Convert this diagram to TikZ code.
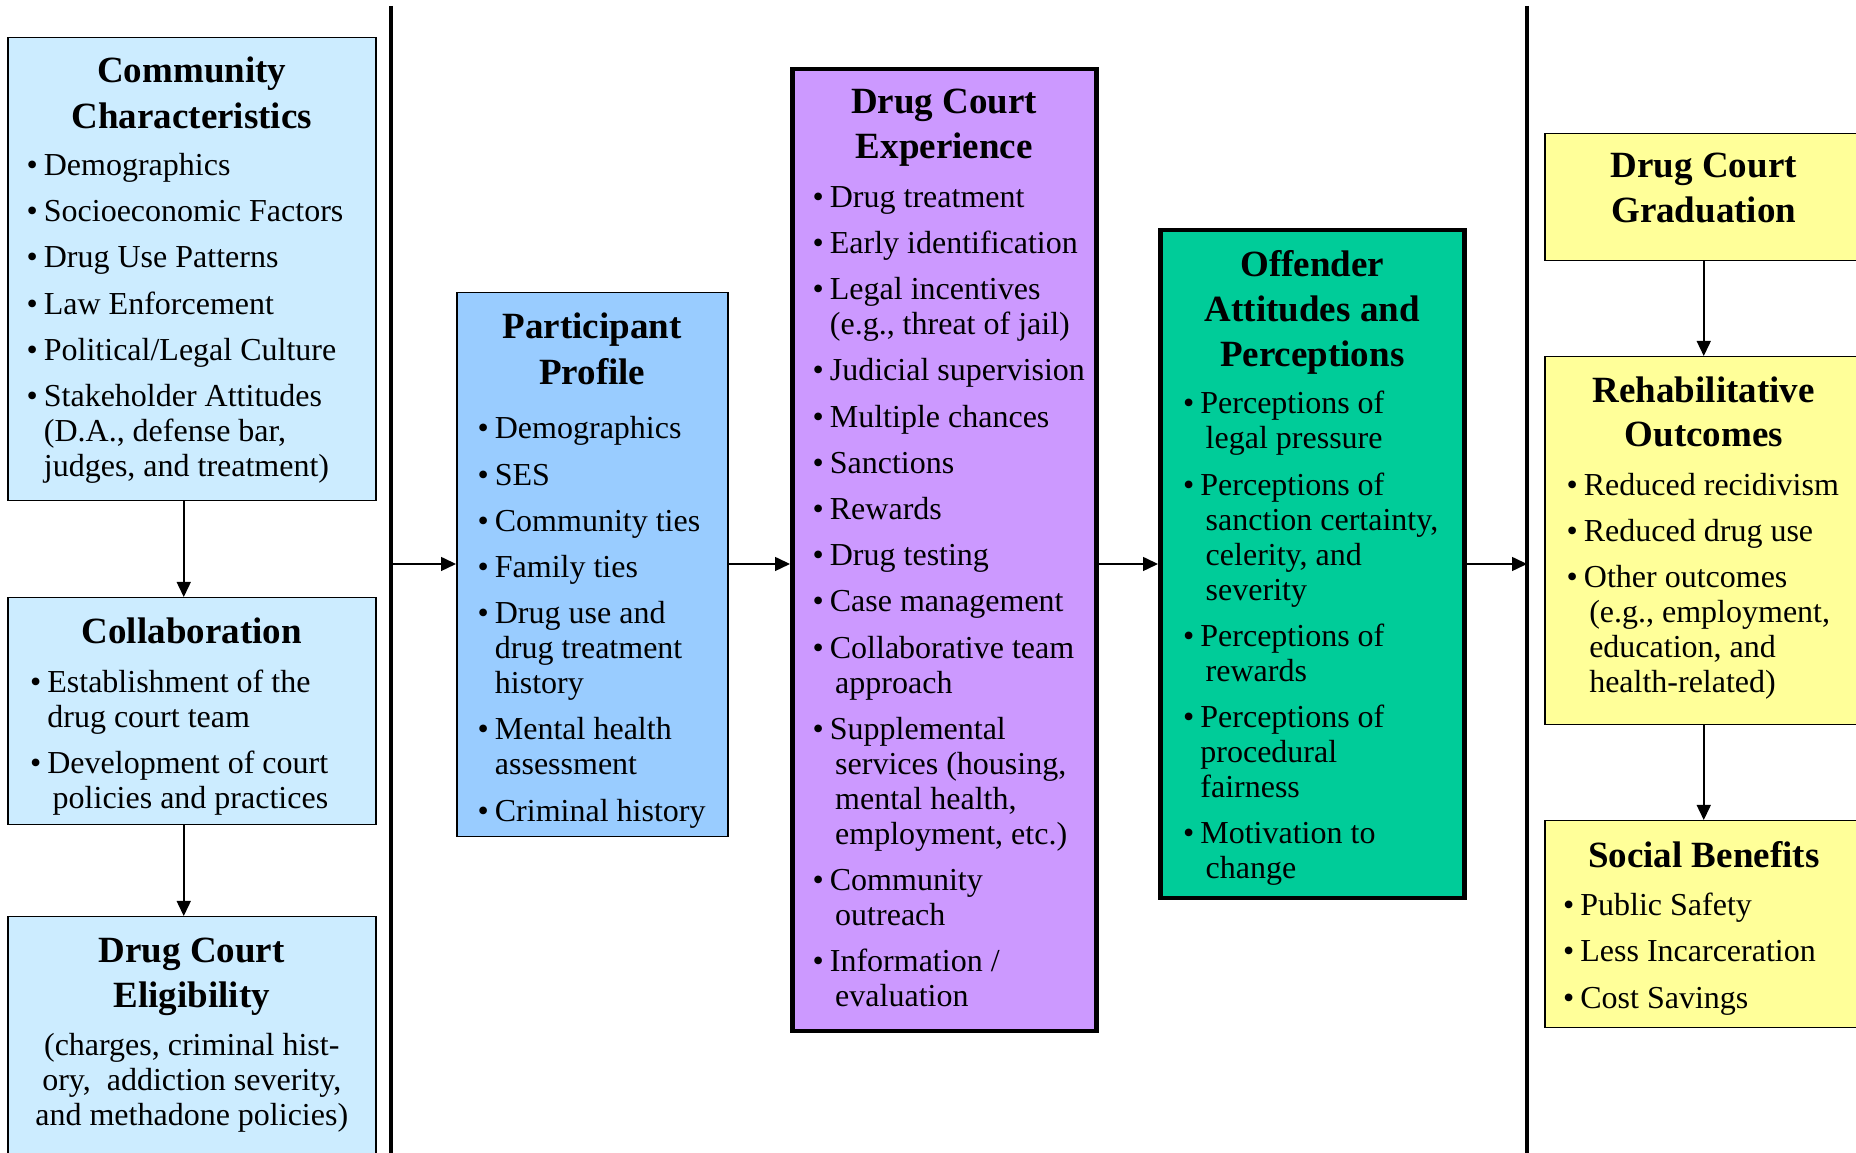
\documentclass[tikz,border=0pt]{standalone}
\usepackage{fontspec}
\setmainfont{Liberation Serif}
\usetikzlibrary{positioning,calc,arrows.meta}
\definecolor{commblue}{HTML}{CCECFF}
\definecolor{partblue}{HTML}{99CCFF}
\definecolor{courtviolet}{HTML}{CC99FF}
\definecolor{attgreen}{HTML}{00CC99}
\definecolor{outyellow}{HTML}{FFFF99}
\newcommand{\ttl}{\fontsize{37}{45}\selectfont\bfseries}
\newcommand{\tg}{\\[9pt]}
\newcommand{\ig}{\\[11.2pt]}

\begin{document}
\begin{tikzpicture}[x=1pt,y=1pt,
    box/.style={draw, line width=1.5pt, anchor=north west},
    heavybox/.style={draw, line width=4.5pt, anchor=north west},
    txt/.style={inner sep=0pt, font=\fontsize{32}{35}\selectfont},
    list/.style={txt, anchor=north west, yshift=-13pt},
    arr/.style={-{Triangle[length=15pt,width=14pt]}, line width=1.5pt},
    sep/.style={line width=3.5pt}]
    \useasboundingbox (0,0) rectangle (1856,1153);

    % left column
    \node[box, fill=commblue, minimum width=368pt, minimum height=463pt] (comm) at (7,1116) {};
    \node[txt, below=20pt of comm.north] (commttl) {\begin{tabular}{@{}c@{}}
        {\ttl Community}\tg
        {\ttl Characteristics}
    \end{tabular}};
    \node[list, xshift=19.5pt, yshift=1pt] (commlist) at (commttl.south -| comm.west) {\begin{tabular}{@{}l@{\hspace{6pt}}l@{}}
        \textbullet & Demographics\ig
        \textbullet & Socioeconomic Factors\ig
        \textbullet & Drug Use Patterns\ig
        \textbullet & Law Enforcement\ig
        \textbullet & Political/Legal Culture\ig
        \textbullet & Stakeholder Attitudes\\
        & (D.A., defense bar,\\
        & judges, and treatment)
    \end{tabular}};

    \node[box, fill=commblue, minimum width=368pt, minimum height=227pt] (collab) at (7,556) {};
    \node[txt, below=21pt of collab.north] (collabttl) {\begin{tabular}{@{}c@{}}
        {\ttl Collaboration}
    \end{tabular}};
    \node[list, xshift=23pt, yshift=-0.5pt] (collablist) at (collabttl.south -| collab.west) {\begin{tabular}{@{}l@{\hspace{6pt}}l@{}}
        \textbullet & Establishment of the\\
        & drug court team\ig
        \textbullet & Development of court\\
        & \,policies and practices
    \end{tabular}};

    \node[box, fill=commblue, minimum width=368pt, minimum height=260pt] (elig) at (7,237) {};
    \node[txt, below=22pt of elig.north] (eligttl) {\begin{tabular}{@{}c@{}}
        {\ttl Drug Court}\tg
        {\ttl Eligibility}\\[13pt]
        (charges, criminal hist-\\
        ory,\ \ addiction severity,\\
        and methadone policies)
    \end{tabular}};

    % middle
    \node[box, fill=partblue, minimum width=271pt, minimum height=544pt] (part) at (456,861) {};
    \node[txt, below=21pt of part.north] (partttl) {\begin{tabular}{@{}c@{}}
        {\ttl Participant}\tg
        {\ttl Profile}
    \end{tabular}};
    \node[list, xshift=21.5pt, yshift=-6pt] (partlist) at (partttl.south -| part.west) {\begin{tabular}{@{}l@{\hspace{6pt}}l@{}}
        \textbullet & Demographics\ig
        \textbullet & SES\ig
        \textbullet & Community ties\ig
        \textbullet & Family ties\ig
        \textbullet & Drug use and\\
        & drug treatment\\
        & history\ig
        \textbullet & Mental health\\
        & assessment\ig
        \textbullet & Criminal history
    \end{tabular}};

    \node[heavybox, fill=courtviolet, minimum width=304pt, minimum height=962pt] (exper) at (790,1086) {};
    \node[txt, below=22pt of exper.north] (experttl) {\begin{tabular}{@{}c@{}}
        {\ttl Drug Court}\tg
        {\ttl Experience}
    \end{tabular}};
    \node[list, xshift=22.5pt] (experlist) at (experttl.south -| exper.west) {\begin{tabular}{@{}l@{\hspace{6pt}}l@{}}
        \textbullet & Drug treatment\ig
        \textbullet & Early identification\ig
        \textbullet & Legal incentives\\
        & (e.g., threat of jail)\ig
        \textbullet & Judicial supervision\ig
        \textbullet & Multiple chances\ig
        \textbullet & Sanctions\ig
        \textbullet & Rewards\ig
        \textbullet & Drug testing\ig
        \textbullet & Case management\ig
        \textbullet & Collaborative team\\
        & \,approach\ig
        \textbullet & Supplemental\\
        & \,services (housing,\\
        & \,mental health,\\
        & \,employment, etc.)\ig
        \textbullet & Community\\
        & \,outreach\ig
        \textbullet & Information /\\
        & \,evaluation
    \end{tabular}};

    \node[heavybox, fill=attgreen, minimum width=304pt, minimum height=668pt] (attit) at (1158,925) {};
    \node[txt, below=22pt of attit.north] (attitttl) {\begin{tabular}{@{}c@{}}
        {\ttl Offender}\tg
        {\ttl Attitudes and}\tg
        {\ttl Perceptions}
    \end{tabular}};
    \node[list, xshift=25pt, yshift=1pt] (attitlist) at (attitttl.south -| attit.west) {\begin{tabular}{@{}l@{\hspace{6pt}}l@{}}
        \textbullet & Perceptions of\\
        & \,legal pressure\ig
        \textbullet & Perceptions of\\
        & \,sanction certainty,\\
        & \,celerity, and\\
        & \,severity\ig
        \textbullet & Perceptions of\\
        & \,rewards\ig
        \textbullet & Perceptions of\\
        & procedural\\
        & fairness\ig
        \textbullet & Motivation to\\
        & \,change
    \end{tabular}};

    % right column
    \node[box, fill=outyellow, minimum width=318pt, minimum height=127pt] (grad) at (1544,1020) {};
    \node[txt, below=20pt of grad.north] (gradttl) {\begin{tabular}{@{}c@{}}
        {\ttl Drug Court}\tg
        {\ttl Graduation}
    \end{tabular}};

    \node[box, fill=outyellow, minimum width=318pt, minimum height=368pt] (rehab) at (1544,797) {};
    \node[txt, below=21pt of rehab.north] (rehabttl) {\begin{tabular}{@{}c@{}}
        {\ttl Rehabilitative}\tg
        {\ttl Outcomes}
    \end{tabular}};
    \node[list, xshift=22.5pt] (rehablist) at (rehabttl.south -| rehab.west) {\begin{tabular}{@{}l@{\hspace{6pt}}l@{}}
        \textbullet & Reduced recidivism\ig
        \textbullet & Reduced drug use\ig
        \textbullet & Other outcomes\\
        & \,(e.g., employment,\\
        & \,education, and\\
        & \,health-related)
    \end{tabular}};

    \node[box, fill=outyellow, minimum width=318pt, minimum height=207pt] (social) at (1544,333) {};
    \node[txt, below=21pt of social.north] (socialttl) {\begin{tabular}{@{}c@{}}
        {\ttl Social Benefits}
    \end{tabular}};
    \node[list, xshift=19pt, yshift=0pt] (sociallist) at (socialttl.south -| social.west) {\begin{tabular}{@{}l@{\hspace{6pt}}l@{}}
        \textbullet & Public Safety\ig
        \textbullet & Less Incarceration\ig
        \textbullet & Cost Savings
    \end{tabular}};

    % separators and arrows
    \coordinate (lefttop) at (391,1147);
    \coordinate (leftbot) at (391,0);
    \coordinate (righttop) at (1527,1147);
    \coordinate (rightbot) at (1527,0);
    \coordinate (mid) at (0,589);
    \draw[sep] (lefttop) -- (leftbot);
    \draw[sep] (righttop) -- (rightbot);

    \draw[arr] ([xshift=-8pt]comm.south) -- ([xshift=-8pt]collab.north);
    \draw[arr] ([xshift=-8pt]collab.south) -- ([xshift=-8pt]elig.north);
    \draw[arr] (lefttop |- mid) -- (part.west |- mid);
    \draw[arr] (part.east |- mid) -- (exper.west |- mid);
    \draw[arr] (exper.east |- mid) -- (attit.west |- mid);
    \draw[arr] (attit.east |- mid) -- (righttop |- mid);
    \draw[arr] (grad) -- (rehab);
    \draw[arr] (rehab) -- (social);
\end{tikzpicture}
\end{document}
